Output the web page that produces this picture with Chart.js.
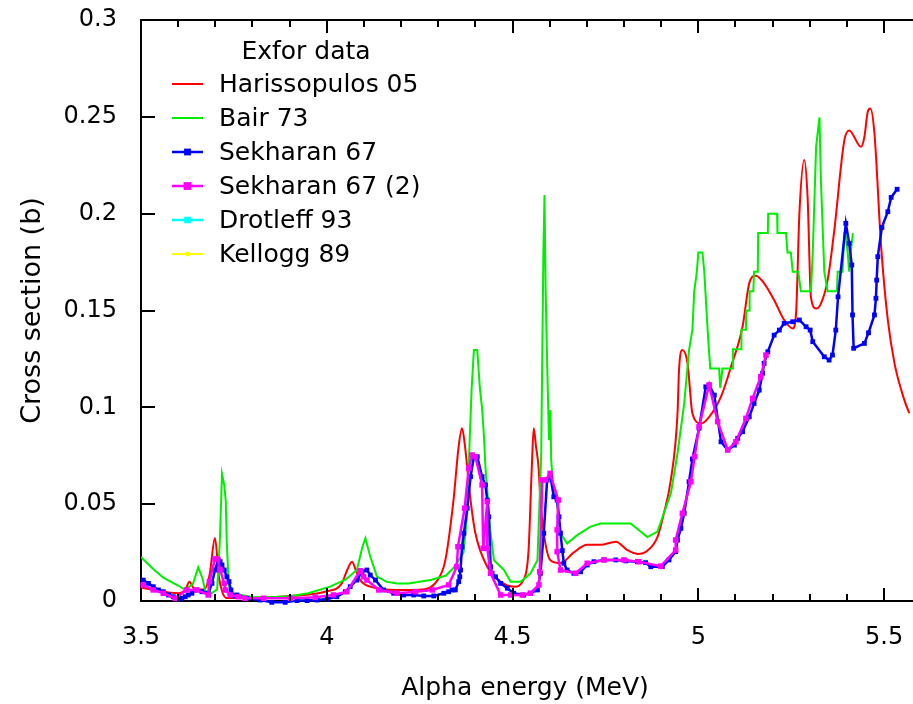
<!DOCTYPE html>
<html>
<head>
<meta charset="utf-8">
<script src="https://cdn.jsdelivr.net/npm/chart.js@4.4.1/dist/chart.umd.min.js"></script>
<style>
html, body { margin: 0; padding: 0; background: #fff; overflow: hidden; }
#wrap { width: 913px; height: 704px; }
</style>
</head>
<body>
<div id="wrap"><canvas id="xsChart" width="913" height="704"></canvas></div>
<script>
// [alpha energy (MeV), cross section (b)]
const harissopulos05 = [
    [3.50,0.007],[3.55,0.005],[3.60,0.004],[3.62,0.006],[3.63,0.010],[3.645,0.006],[3.67,0.006],[3.685,0.014],
    [3.699,0.0325],[3.71,0.012],[3.72,0.004],[3.731,0.0015],[3.78,0.0015],[3.85,0.002],[3.93,0.003],[4.00,0.005],
    [4.04,0.009],[4.055,0.016],[4.068,0.0203],[4.078,0.016],[4.09,0.0108],[4.117,0.0074],[4.19,0.0057],[4.25,0.0058],
    [4.298,0.0108],[4.319,0.021],[4.341,0.052],[4.355,0.080],[4.364,0.0892],[4.372,0.080],[4.378,0.069],[4.387,0.052],
    [4.40,0.035],[4.432,0.0177],[4.468,0.010],[4.504,0.0074],[4.53,0.011],[4.543,0.026],[4.552,0.070],[4.557,0.0892],
    [4.563,0.080],[4.57,0.069],[4.575,0.052],[4.584,0.035],[4.602,0.021],[4.629,0.0195],[4.664,0.025],[4.701,0.029],
    [4.737,0.029],[4.778,0.0306],[4.809,0.0263],[4.836,0.0243],[4.863,0.026],[4.890,0.033],[4.907,0.045],[4.926,0.0625],
    [4.944,0.097],[4.948,0.119],[4.957,0.1296],[4.971,0.1227],[4.984,0.097],[5.007,0.0917],[5.029,0.095],[5.061,0.1055],
    [5.088,0.121],[5.119,0.1416],[5.137,0.164],[5.155,0.168],[5.177,0.164],[5.204,0.1554],[5.231,0.1451],[5.254,0.1407],
    [5.263,0.1485],[5.272,0.200],[5.285,0.2277],[5.294,0.2088],[5.303,0.157],[5.317,0.151],[5.330,0.1536],[5.348,0.1657],
    [5.366,0.1915],[5.393,0.238],[5.406,0.243],[5.438,0.2345],[5.447,0.2397],[5.456,0.2526],[5.463,0.2543],[5.474,0.2414],
    [5.492,0.183],[5.510,0.145],[5.528,0.1227],[5.546,0.109],[5.568,0.097],[5.581,0.0934]
];

const bair73 = [
    [3.50,0.0227],[3.53,0.017],[3.56,0.012],[3.60,0.008],[3.62,0.0057],[3.64,0.009],[3.654,0.0174],[3.665,0.012],
    [3.673,0.005],[3.69,0.004],[3.705,0.006],[3.712,0.030],[3.718,0.0656],[3.724,0.060],[3.728,0.052],[3.731,0.030],
    [3.736,0.008],[3.748,0.004],[3.80,0.002],[3.848,0.002],[3.90,0.0025],[3.95,0.004],[4.009,0.0074],[4.05,0.011],
    [4.081,0.016],[4.096,0.028],[4.104,0.0324],[4.11,0.028],[4.117,0.023],[4.135,0.0126],[4.16,0.010],[4.189,0.0091],
    [4.22,0.009],[4.279,0.0108],[4.32,0.013],[4.341,0.017],[4.368,0.025],[4.378,0.045],[4.384,0.080],[4.390,0.110],
    [4.396,0.1296],[4.405,0.1296],[4.412,0.110],[4.418,0.0994],[4.423,0.085],[4.427,0.069],[4.441,0.035],[4.450,0.021],
    [4.477,0.016],[4.495,0.010],[4.522,0.010],[4.548,0.0142],[4.567,0.021],[4.577,0.0745],[4.583,0.180],[4.586,0.2096],
    [4.589,0.1606],[4.593,0.124],[4.598,0.083],[4.602,0.0986],[4.604,0.0728],[4.611,0.0556],[4.620,0.050],[4.629,0.035],
    [4.647,0.0297],[4.674,0.034],[4.710,0.0384],[4.737,0.040],[4.818,0.040],[4.863,0.033],[4.890,0.0358],[4.926,0.0556],
    [4.944,0.0763],[4.962,0.102],[4.975,0.1296],[4.984,0.140],[4.989,0.160],[4.996,0.170],[5.000,0.180],[5.011,0.180],
    [5.016,0.170],[5.025,0.140],[5.032,0.120],[5.056,0.120],[5.059,0.110],[5.065,0.120],[5.092,0.120],[5.093,0.130],
    [5.115,0.130],[5.116,0.140],[5.128,0.140],[5.129,0.150],[5.137,0.150],[5.138,0.160],[5.148,0.160],[5.150,0.170],
    [5.160,0.170],[5.161,0.190],[5.187,0.190],[5.188,0.200],[5.212,0.200],[5.213,0.190],[5.236,0.190],[5.240,0.180],
    [5.249,0.180],[5.254,0.170],[5.269,0.170],[5.276,0.160],[5.303,0.160],[5.308,0.180],[5.317,0.2345],[5.326,0.2497],
    [5.330,0.217],[5.339,0.170],[5.348,0.160],[5.373,0.160],[5.375,0.170],[5.388,0.170],[5.393,0.190],[5.396,0.190],
    [5.402,0.180],[5.406,0.170],[5.410,0.180],[5.416,0.190]
];

const sekharan67 = [
    [3.506,0.0108],[3.520,0.0091],[3.533,0.0074],[3.547,0.0057],[3.560,0.0048],[3.574,0.0031],[3.587,0.0022],[3.600,0.0010],
    [3.610,0.0014],[3.619,0.0022],[3.627,0.0031],[3.637,0.0040],[3.650,0.0057],[3.664,0.0048],[3.681,0.0040],[3.691,0.0091],
    [3.699,0.0160],[3.708,0.0212],[3.713,0.0203],[3.718,0.0186],[3.724,0.0160],[3.731,0.0125],[3.737,0.0100],[3.742,0.0057],
    [3.749,0.0026],[3.758,0.0031],[3.785,0.0014],[3.821,0.0005],[3.852,-0.0007],[3.888,-0.0007],[3.920,0.0002],[3.947,0.0002],
    [3.974,0.0005],[4.001,0.0010],[4.027,0.0022],[4.050,0.0048],[4.063,0.0074],[4.081,0.0108],[4.095,0.0151],[4.108,0.0160],
    [4.117,0.0134],[4.131,0.0108],[4.153,0.0057],[4.180,0.0040],[4.207,0.0031],[4.234,0.0031],[4.261,0.0026],[4.288,0.0026],
    [4.315,0.0040],[4.328,0.0048],[4.337,0.0057],[4.346,0.0057],[4.355,0.0100],[4.358,0.0125],[4.360,0.0160],[4.364,0.0280],
    [4.369,0.0350],[4.378,0.0479],[4.387,0.0642],[4.396,0.0745],[4.405,0.0745],[4.418,0.0642],[4.427,0.0599],[4.432,0.0521],
    [4.436,0.0435],[4.441,0.0177],[4.445,0.0143],[4.454,0.0125],[4.468,0.0091],[4.486,0.0066],[4.503,0.0040],[4.530,0.0031],
    [4.548,0.0040],[4.567,0.0057],[4.575,0.0143],[4.584,0.0350],[4.593,0.0625],[4.602,0.0642],[4.611,0.0538],[4.620,0.0521],
    [4.625,0.0435],[4.629,0.0350],[4.634,0.0260],[4.638,0.0195],[4.647,0.0160],[4.665,0.0143],[4.683,0.0151],[4.701,0.0186],
    [4.719,0.0203],[4.746,0.0212],[4.778,0.0212],[4.805,0.0207],[4.836,0.0203],[4.858,0.0198],[4.872,0.0177],[4.903,0.0177],
    [4.921,0.0212],[4.939,0.0255],[4.944,0.0315],[4.953,0.0375],[4.962,0.0453],[4.975,0.0616],[4.984,0.0733],[5.002,0.0892],
    [5.020,0.1106],[5.029,0.1115],[5.043,0.1063],[5.061,0.0822],[5.079,0.0780],[5.097,0.0805],[5.106,0.0840],[5.119,0.0874],
    [5.137,0.0951],[5.150,0.1020],[5.164,0.1089],[5.173,0.1176],[5.177,0.1227],[5.187,0.1287],[5.204,0.1373],[5.218,0.1399],
    [5.231,0.1434],[5.254,0.1442],[5.272,0.1451],[5.290,0.1416],[5.301,0.1399],[5.308,0.1339],[5.339,0.1261],[5.352,0.1244],
    [5.361,0.1270],[5.370,0.1399],[5.376,0.1571],[5.397,0.1950],[5.406,0.1847],[5.413,0.1735],[5.415,0.1477],[5.418,0.1305],
    [5.447,0.1330],[5.458,0.1385],[5.474,0.1477],[5.478,0.1563],[5.480,0.1657],[5.483,0.1778],[5.494,0.1929],[5.510,0.2010],
    [5.519,0.2084],[5.535,0.2126]
];

const sekharan67b = [
    [3.506,0.0083],[3.533,0.0057],[3.560,0.0040],[3.592,0.0014],[3.623,0.0057],[3.650,0.0057],[3.681,0.0031],[3.684,0.0100],
    [3.699,0.0217],[3.706,0.0217],[3.713,0.0160],[3.724,0.0091],[3.727,0.0057],[3.740,0.0031],[3.762,0.0022],[3.780,0.0014],
    [3.830,0.0014],[3.902,0.0014],[3.969,0.0019],[4.018,0.0031],[4.054,0.0048],[4.090,0.0156],[4.099,0.0125],[4.108,0.0108],
    [4.140,0.0057],[4.189,0.0040],[4.239,0.0048],[4.284,0.0057],[4.328,0.0083],[4.350,0.0177],[4.353,0.0280],[4.371,0.0479],
    [4.382,0.0685],[4.391,0.0754],[4.400,0.0745],[4.418,0.0600],[4.421,0.0272],[4.432,0.0513],[4.432,0.0272],[4.441,0.0143],
    [4.468,0.0031],[4.495,0.0031],[4.526,0.0031],[4.548,0.0040],[4.571,0.0083],[4.573,0.0151],[4.580,0.0625],[4.589,0.0625],
    [4.601,0.0659],[4.623,0.0521],[4.620,0.0367],[4.620,0.0255],[4.629,0.0160],[4.670,0.0143],[4.701,0.0195],[4.746,0.0212],
    [4.800,0.0212],[4.840,0.0203],[4.899,0.0180],[4.939,0.0263],[4.939,0.0315],[4.957,0.0453],[4.980,0.0616],[4.990,0.0745],
    [5.002,0.0900],[5.029,0.1115],[5.052,0.0926],[5.079,0.0780],[5.101,0.0822],[5.128,0.0943],[5.146,0.1046],[5.168,0.1158],
    [5.182,0.1270]
];

// no points of these two sets fall inside the plotted window
const drotleff93 = [];
const kellogg89 = [];

const legendTitle = 'Exfor data';
const xTickMajors = [3.5, 4, 4.5, 5, 5.5];

const toPoints = arr => arr.map(p => ({ x: p[0], y: p[1] }));

const frameAndLegend = {
    id: 'frameAndLegend',
    afterDraw(chart) {
        const ctx = chart.ctx;
        const area = chart.chartArea;
        const xs = chart.scales.x;
        const ys = chart.scales.y;
        const rightEdge = chart.width;
        ctx.save();
        ctx.strokeStyle = '#000';
        ctx.lineWidth = 2;
        ctx.beginPath();
        ctx.moveTo(area.left, area.top);
        ctx.lineTo(rightEdge, area.top);
        ctx.moveTo(area.right - 1, area.bottom);
        ctx.lineTo(rightEdge, area.bottom);
        ctx.stroke();
        // inward ticks, gnuplot style
        xs.ticks.forEach(t => {
            const px = Math.round(xs.getPixelForValue(t.value));
            if (px <= area.left + 1) return;
            const major = xTickMajors.some(m => Math.abs(m - t.value) < 1e-6);
            const len = major ? 13 : 7;
            ctx.beginPath();
            ctx.moveTo(px, area.bottom); ctx.lineTo(px, area.bottom - len);
            ctx.moveTo(px, area.top); ctx.lineTo(px, area.top + len);
            ctx.stroke();
        });
        ys.ticks.forEach(t => {
            const py = Math.round(ys.getPixelForValue(t.value));
            ctx.beginPath();
            ctx.moveTo(area.left, py); ctx.lineTo(area.left + 14, py);
            ctx.stroke();
        });

        ctx.fillStyle = '#000';
        ctx.font = '25px "DejaVu Sans"';
        ctx.textBaseline = 'middle';
        ctx.textAlign = 'center';
        ctx.fillText(legendTitle, 306, 52);
        ctx.textAlign = 'left';
        chart.data.datasets.forEach((ds, i) => {
            const y = 84 + i * 34;
            ctx.strokeStyle = ds.borderColor;
            ctx.lineWidth = ds.borderWidth;
            ctx.beginPath();
            ctx.moveTo(172, y); ctx.lineTo(203, y);
            ctx.stroke();
            if (ds.pointRadius > 0) {
                const r = ds.pointRadius;
                ctx.fillStyle = ds.borderColor;
                ctx.fillRect(187.5 - r, y - r, 2 * r, 2 * r);
            }
            ctx.fillStyle = '#000';
            ctx.fillText(ds.label, 219, y + 1);
        });
        ctx.restore();
    }
};

const ctx = document.getElementById('xsChart').getContext('2d');
new Chart(ctx, {
    type: 'line',
    data: {
        datasets: [
            { label: 'Harissopulos 05', data: toPoints(harissopulos05), borderColor: '#ff0000', borderWidth: 2, pointRadius: 0, cubicInterpolationMode: 'monotone', clip: { left: 0, top: 0, right: 10, bottom: 0 }, order: 6 },
            { label: 'Bair 73', data: toPoints(bair73), borderColor: '#00ee00', borderWidth: 2, pointRadius: 0, tension: 0, order: 5 },
            { label: 'Sekharan 67', data: toPoints(sekharan67), borderColor: '#0000ff', backgroundColor: '#0000ff', borderWidth: 2.5, pointRadius: 3.4, pointStyle: 'rect', pointBorderWidth: 0, tension: 0, clip: false, order: 4 },
            { label: 'Sekharan 67 (2)', data: toPoints(sekharan67b), borderColor: '#ff00ff', backgroundColor: '#ff00ff', borderWidth: 2.5, pointRadius: 3.9, pointStyle: 'rect', pointBorderWidth: 0, tension: 0, clip: false, order: 3 },
            { label: 'Drotleff 93', data: toPoints(drotleff93), borderColor: '#00ffff', backgroundColor: '#00ffff', borderWidth: 2.5, pointRadius: 3.3, pointStyle: 'rect', order: 2 },
            { label: 'Kellogg 89', data: toPoints(kellogg89), borderColor: '#ffff00', backgroundColor: '#ffff00', borderWidth: 2, pointRadius: 2.2, pointStyle: 'rect', order: 1 }
        ]
    },
    options: {
        responsive: false,
        animation: false,
        events: [],
        layout: { padding: { top: 20, right: 0, left: 0, bottom: 0 } },
        plugins: { legend: { display: false }, tooltip: { enabled: false } },
        scales: {
            x: {
                type: 'linear', min: 3.5, max: 5.567,
                grid: { display: false },
                border: { display: true, color: '#000', width: 2 },
                ticks: {
                    stepSize: 0.1, maxTicksLimit: 100, includeBounds: false, autoSkip: false, maxRotation: 0,
                    padding: 14, color: '#000', font: { family: 'DejaVu Sans', size: 24 },
                    callback: v => xTickMajors.some(m => Math.abs(m - v) < 1e-6) ? String(Math.round(v * 10) / 10) : ''
                },
                title: { display: true, text: 'Alpha energy (MeV)', color: '#000', font: { family: 'DejaVu Sans', size: 25 }, padding: { top: 0, bottom: 1 } },
                afterFit: s => { s.height = 103; s.paddingLeft = 0; s.paddingRight = 0; }
            },
            y: {
                type: 'linear', min: 0, max: 0.3,
                grid: { display: false },
                border: { display: true, color: '#000', width: 2 },
                ticks: {
                    stepSize: 0.05, padding: 16, color: '#000', font: { family: 'DejaVu Sans', size: 24 },
                    callback: v => String(Math.round(v * 100) / 100)
                },
                title: { display: true, text: 'Cross section (b)', color: '#000', font: { family: 'DejaVu Sans', size: 27 }, padding: { top: 17, bottom: 0 } },
                afterFit: s => { s.width = 141; s.paddingTop = 0; s.paddingBottom = 0; }
            }
        }
    },
    plugins: [frameAndLegend]
});
</script>
</body>
</html>
